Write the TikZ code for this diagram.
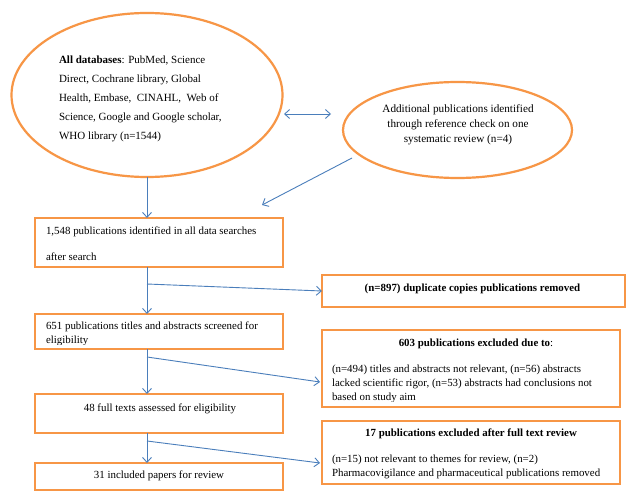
\documentclass[tikz,border=0pt]{standalone}
\usepackage{fontspec}
\setmainfont{Liberation Serif}
\usetikzlibrary{arrows.meta,shapes.geometric,calc}
\definecolor{org}{HTML}{F79646}
\definecolor{blu}{HTML}{4A7EBB}
\newcommand{\fl}{\rule{0pt}{8bp}}
\begin{document}
\begin{tikzpicture}[x=1bp,y=-1bp,
 obox/.style={draw=org,line width=2.2bp,rectangle,inner sep=0,outer sep=0},
 oell/.style={draw=org,line width=2.2bp,ellipse,inner sep=0,outer sep=0},
 arr/.style={draw=blu,line width=0.9bp,-{Straight Barb[length=5bp,width=9bp]}},
 dbl/.style={draw=blu,line width=0.9bp,{Straight Barb[length=5bp,width=9bp]}-{Straight Barb[length=5bp,width=9bp]}},
 txt/.style={inner sep=0,outer sep=0,font=\fontsize{10.9bp}{14bp}\selectfont},
]
\useasboundingbox[fill=white] (0,0) rectangle (640,504);

% ellipses
\node[oell,minimum width=271bp,minimum height=164bp] (e1) at (147,95) {};
\node[oell,minimum width=229bp,minimum height=96bp] (e2) at (457.5,130) {};
\node[txt,font=\fontsize{11bp}{19bp}\selectfont,align=left,anchor=north west] (te1) at (59,55)
 {\rule{0pt}{8.5bp}\textbf{All databases}: PubMed, Science\\
  Direct, Cochrane library, Global\\
  Health, Embase,\ \ CINAHL,\ \ Web of\\
  Science, Google and Google scholar,\\
  WHO library (n=1544)};
\node[txt,font=\fontsize{11.2bp}{15bp}\selectfont,align=center,anchor=north] (te2) at (458,105)
 {\fl Additional publications identified\\
  through reference check on one\\
  systematic review (n=4)};

% left boxes
\node[obox,minimum width=248bp,minimum height=49bp] (b1) at (159,242.5) {};
\node[obox,minimum width=248bp,minimum height=35bp] (b2) at (159,331.5) {};
\node[obox,minimum width=248bp,minimum height=39bp] (b3) at (159,413.5) {};
\node[obox,minimum width=248bp,minimum height=27bp] (b4) at (159,476.5) {};
% right boxes
\node[obox,minimum width=303bp,minimum height=32bp] (r1) at (473.5,291) {};
\node[obox,minimum width=298bp,minimum height=77bp] (r2) at (471,368.5) {};
\node[obox,minimum width=298bp,minimum height=63bp] (r3) at (471,452.5) {};

% texts
\node[txt,font=\fontsize{10.9bp}{26bp}\selectfont,align=left,anchor=north west] (tb1) at (46,226)
 {\fl 1,548 publications identified in all data searches\\ after search};
\begin{scope}
 \clip (36,315) rectangle (282,344.5);
 \node[txt,align=left,anchor=north west] (tb2) at (46,321)
  {\fl 651 publications titles and abstracts screened for\\ eligibility};
\end{scope}
\node[txt,anchor=base] (tb3) at (160,411) {48 full texts assessed for eligibility};
\node[txt,anchor=base] (tb4) at (159,478) {31 included papers for review};
\node[txt,anchor=base,font=\fontsize{10.9bp}{14bp}\selectfont\bfseries] (tr1) at (472.5,291.5)
 {(n=897) duplicate copies publications removed};
\node[txt,anchor=base] (tr2a) at (476,346) {\textbf{603 publications excluded due to}:};
\begin{scope}
 \clip (323,360) rectangle (619,401.2);
 \node[txt,align=left,anchor=north west] (tr2b) at (332,364)
  {\fl (n=494) titles and abstracts not relevant, (n=56) abstracts\\
   lacked scientific rigor, (n=53) abstracts had conclusions not\\
   based on study aim};
\end{scope}
\node[txt,anchor=base] (tr3a) at (471,436) {\textbf{17 publications excluded after full text review}};
\node[txt,align=left,anchor=north west] (tr3b) at (332,454)
 {\fl (n=15) not relevant to themes for review, (n=2)\\
  Pharmacovigilance and pharmaceutical publications removed};

% connectors
\coordinate (d1) at (284,114);
\coordinate (d2) at (331,114);
\draw[dbl] (d1) -- (d2);
\coordinate (a2s) at (352,158);
\coordinate (a2e) at (262,205);
\draw[arr] (a2s) -- (a2e);
\draw[arr] (e1.south) -- (e1.south |- b1.north);
\draw[arr] (b1.south -| e1.south) -- (b2.north -| e1.south);
\draw[arr] (b2.south -| e1.south) -- (b3.north -| e1.south);
\draw[arr] (b3.south -| e1.south) -- (b4.north -| e1.south);
\coordinate (k1) at (147,284);
\coordinate (k2) at (147,357);
\coordinate (k2e) at (320,382);
\coordinate (k3) at (147,441);
\coordinate (k3e) at (320,463);
\draw[arr] (k1) -- (r1.west);
\draw[arr] (k2) -- (k2e);
\draw[arr] (k3) -- (k3e);
\end{tikzpicture}
\end{document}
